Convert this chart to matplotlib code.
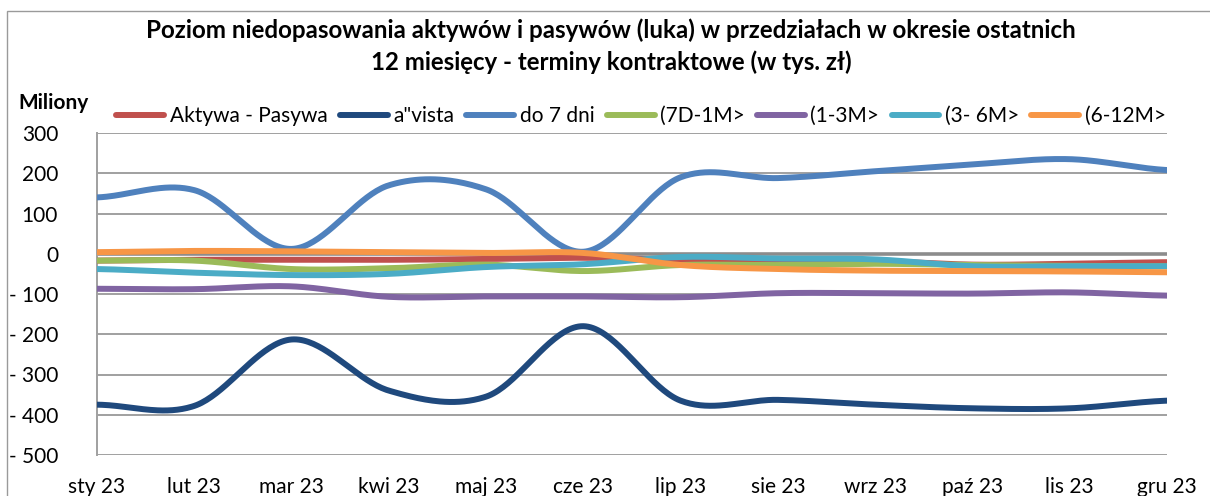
import numpy as np
import matplotlib
matplotlib.use("Agg")
import matplotlib.pyplot as plt
from matplotlib.patches import Rectangle
from matplotlib.ticker import FuncFormatter, FixedLocator

plt.rcParams['font.family'] = ['Lato', 'DejaVu Sans']

months = ["sty 23", "lut 23", "mar 23", "kwi 23", "maj 23", "cze 23",
          "lip 23", "sie 23", "wrz 23", "paź 23", "lis 23", "gru 23"]

aktywa_pasywa = [-17, -15, -15, -15, -13, -10, -15, -17, -18, -27, -25, -21]
a_vista = [-375, -378, -213, -340, -355, -180, -365, -363, -375, -384, -384, -365]
do_7_dni = [140, 158, 12, 170, 160, 5, 190, 188, 205, 222, 235, 208]
d7_1m = [-17, -17, -38, -36, -27, -43, -28, -28, -25, -28, -30, -31]
m1_3 = [-87, -88, -81, -107, -106, -106, -108, -98, -98, -99, -96, -104]
m3_6 = [-38, -47, -53, -50, -33, -26, -8, -12, -14, -31, -31, -31]
m6_12 = [4, 7, 6, 4, 2, 2, -28, -38, -42, -43, -44, -46]

series_names = ["Aktywa - Pasywa", "a\"vista", "do 7 dni", "(7D-1M>",
                "(1-3M>", "(3- 6M>", "(6-12M>"]
series_values = [aktywa_pasywa, a_vista, do_7_dni, d7_1m, m1_3, m3_6, m6_12]
colors = ["#C0504D", "#1F497D", "#4F81BD", "#9BBB59", "#8064A2", "#4BACC6", "#F79646"]

y_ticks = [300, 200, 100, 0, -100, -200, -300, -400, -500]


def smooth(y, n=40):
    """Excel-style smoothed line (Catmull-Rom through the data points)."""
    y = np.asarray(y, dtype=float)
    x = np.arange(len(y), dtype=float)
    m = np.empty_like(y)
    m[1:-1] = (y[2:] - y[:-2]) / 2.0
    m[0] = (y[1] - y[0]) / 2.0
    m[-1] = (y[-1] - y[-2]) / 2.0
    xs, ys = [], []
    t = np.linspace(0, 1, n, endpoint=False)
    h00 = 2 * t**3 - 3 * t**2 + 1
    h10 = t**3 - 2 * t**2 + t
    h01 = -2 * t**3 + 3 * t**2
    h11 = t**3 - t**2
    for i in range(len(y) - 1):
        xs.append(x[i] + t)
        ys.append(h00 * y[i] + h10 * m[i] + h01 * y[i + 1] + h11 * m[i + 1])
    xs.append([x[-1]])
    ys.append([y[-1]])
    return np.concatenate(xs), np.concatenate(ys)


W, H = 1210, 496
fig = plt.figure(figsize=(W / 100, H / 100), dpi=100)
fig.patch.set_facecolor("white")

# chart border (partially outside the image)
fig.add_artist(Rectangle((7 / W, -0.1), 1.2, 1.1 - 10.5 / H, transform=fig.transFigure,
                         fill=False, edgecolor="#9a9a9a", linewidth=1.0))

ax = fig.add_axes([97 / W, 1 - 455 / H, (1167 - 97) / W, (455 - 133) / H])
ax.set_facecolor("none")

for name, vals, c in zip(series_names, series_values, colors):
    xs, ys = smooth(vals)
    ax.plot(xs, ys, color=c, lw=4.3, solid_capstyle="round", label=name, zorder=3)

ax.set_xlim(0, len(months) - 1)
ax.set_ylim(-500, 300)
ax.yaxis.set_major_locator(FixedLocator(y_ticks))
ax.yaxis.set_major_formatter(FuncFormatter(lambda v, p: f"- {abs(v):.0f}" if v < 0 else f"{v:.0f}"))
ax.set_xticks(range(len(months)))
ax.set_xticklabels(months)

for v in y_ticks:
    if v == 0:
        ax.axhline(v, color="#8c8c8c", lw=2.6, zorder=1)
    else:
        ax.axhline(v, color="#a0a0a0", lw=1.4, zorder=1)

for s in ["top", "right", "bottom"]:
    ax.spines[s].set_visible(False)
ax.spines["left"].set_color("#a0a0a0")
ax.spines["left"].set_linewidth(1.4)

ax.tick_params(axis="y", length=0, pad=28, labelsize=15, colors="black")
ax.tick_params(axis="x", length=0, pad=16, labelsize=15, colors="black")

fig.text(53 / W, 1 - 103 / H, "Miliony", ha="center", va="center",
         fontsize=15, fontweight="bold")

fig.text(611 / W, 1 - 30 / H,
         "Poziom niedopasowania aktywów i pasywów (luka) w przedziałach w okresie ostatnich",
         ha="center", va="center", fontsize=17.4, fontweight="bold")
fig.text(611 / W, 1 - 62 / H, "12 miesięcy - terminy kontraktowe (w tys. zł)",
         ha="center", va="center", fontsize=17.3, fontweight="bold")

leg = fig.legend(loc="center", bbox_to_anchor=(641 / W, 1 - 116 / H), ncol=7,
                 frameon=False, fontsize=15, handlelength=2.3, handletextpad=0.25,
                 columnspacing=0.6, borderaxespad=0)
for h in leg.get_lines():
    h.set_linewidth(4.3)
    h.set_solid_capstyle("round")

fig.savefig("out.png", dpi=100)
